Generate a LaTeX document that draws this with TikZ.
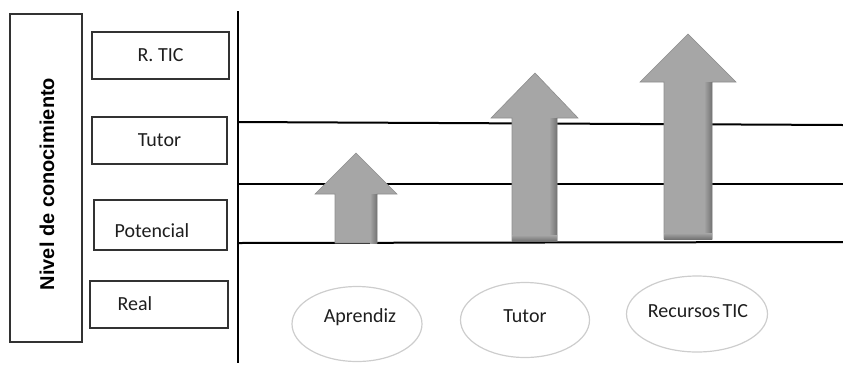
\documentclass[tikz,border=0pt]{standalone}
\usepackage{fontspec}
\setmainfont{Carlito}
\newfontfamily\titlefont{Liberation Sans}
\usetikzlibrary{shapes.geometric}
\definecolor{arrowgray}{RGB}{166,166,166}
\definecolor{arrowdark}{RGB}{115,115,115}
\definecolor{boxline}{RGB}{50,50,50}
\definecolor{ellline}{RGB}{205,205,205}
\definecolor{txt}{RGB}{30,30,30}
\tikzset{
  lvlbox/.style={draw=boxline, line width=1.3pt, minimum width=135pt, minimum height=46pt, inner sep=0pt, text=txt},
  agentell/.style={draw=ellline, line width=1.2pt, ellipse, inner sep=0pt, text=txt},
  levelline/.style={line width=2pt, black},
  uparrow/.style={fill=arrowgray, draw=arrowgray!85!black, line width=0.6pt},
}
\begin{document}
\begin{tikzpicture}[x=1pt, y=-1pt, font=\fontsize{20}{24}\selectfont]
\useasboundingbox (0,0) rectangle (843,365);
% left title box
\node[draw=boxline, line width=1.3pt, minimum width=72pt, minimum height=328pt, inner sep=0pt] (title) at (46,178) {};
\node[rotate=90, font=\fontsize{20}{24}\selectfont\titlefont\bfseries, text=black] (titletext) at (47,184) {Nivel de conocimiento};
% level boxes
\node[lvlbox, minimum width=137pt, minimum height=47pt] (rtic) at (160.5,55.5) {R.\ TIC};
\node[lvlbox, minimum width=135pt, minimum height=47pt] (tutorb) at (159.5,140.5) {Tutor};
\node[lvlbox, minimum width=133pt, minimum height=50pt] (potb) at (160.5,225) {};
\node[text=txt] (pottext) at (152,231) {Potencial};
\node[lvlbox, minimum width=138pt, minimum height=47pt] (realb) at (159,304.5) {};
\node[text=txt] (realtext) at (135,304) {Real};
% axis and level lines
\coordinate (axtop) at (238,11);
\coordinate (axbot) at (238,363);
\draw[line width=2.4pt] (axtop) -- (axbot);
\coordinate (l1a) at (238,122); \coordinate (l1b) at (843,125);
\coordinate (l2a) at (238,184); \coordinate (l2b) at (843,184);
\coordinate (l3a) at (238,243); \coordinate (l3b) at (843,242);
\draw[levelline] (l1a) -- (l1b);
\draw[levelline] (l2a) -- (l2b);
\draw[levelline] (l3a) -- (l3b);
% arrows
\draw[uparrow] (335,243) -- (335,194) -- (315,194) -- (356,153) -- (397,194) -- (377,194) -- (377,243) -- cycle;
\shade[left color=arrowgray, right color=arrowdark] (370,194.5) rectangle (377,243);
\draw[uparrow] (512,241) -- (512,118) -- (491,118) -- (535,73) -- (578,118) -- (557,118) -- (557,241) -- cycle;
\shade[left color=arrowgray, right color=arrowdark] (549,118.5) rectangle (557,241);
\shade[top color=arrowgray, bottom color=arrowdark] (512,235) rectangle (557,241);
\draw[uparrow] (664,239) -- (664,82) -- (640,82) -- (688,34) -- (736,82) -- (712,82) -- (712,239) -- cycle;
\shade[left color=arrowgray, right color=arrowdark] (704,82.5) rectangle (712,239);
\shade[top color=arrowgray, bottom color=arrowdark] (664,233) rectangle (712,239);
% agent ellipses
\node[agentell, minimum width=130pt, minimum height=75pt] (aprendiz) at (357,324) {};
\node[text=txt] (aprtext) at (360,317) {Aprendiz};
\node[agentell, minimum width=129pt, minimum height=75pt] (tutore) at (525,320) {};
\node[text=txt] (tuttext) at (525,316) {Tutor};
\node[agentell, minimum width=141pt, minimum height=76pt] (recursos) at (697,314) {};
\node[text=txt] (rectext) at (698,311) {Recursos\hspace{0.12em}TIC};
\end{tikzpicture}
\end{document}
